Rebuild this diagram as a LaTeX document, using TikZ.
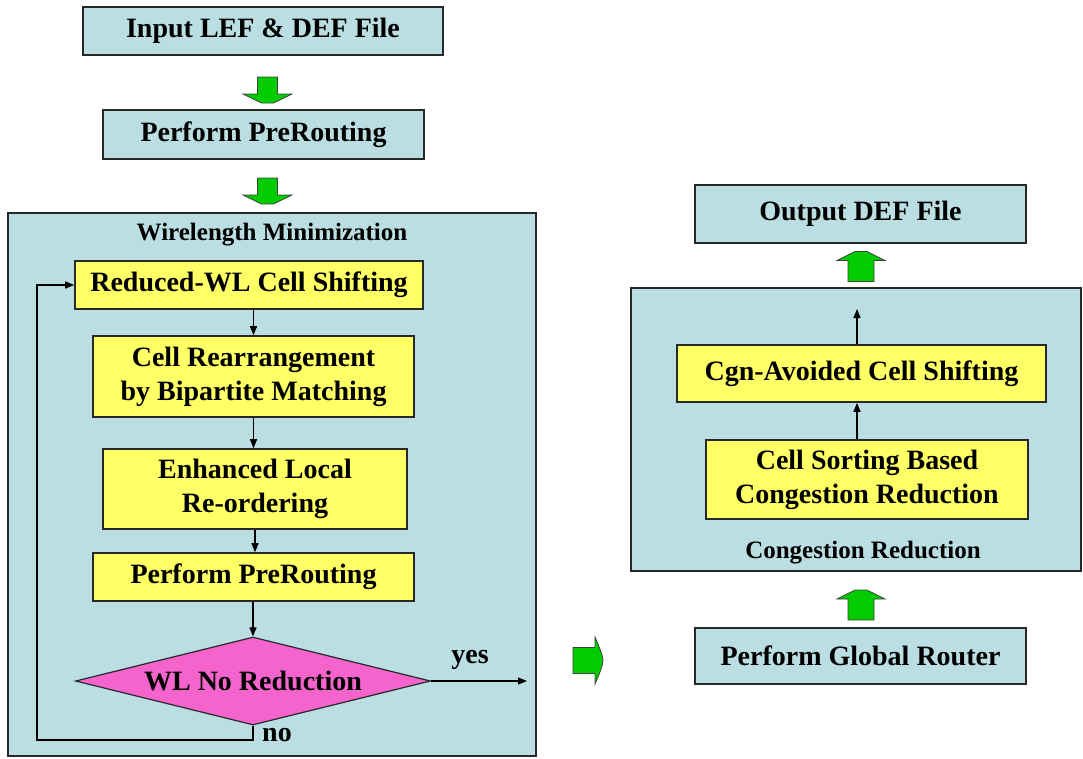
\documentclass[tikz,border=0pt]{standalone}
\usepackage{fontspec}
\setmainfont{Liberation Serif}
\usetikzlibrary{shapes.geometric,arrows.meta}

\definecolor{paleblue}{RGB}{186,222,226}
\definecolor{stepyellow}{RGB}{255,255,102}
\definecolor{decpink}{RGB}{245,100,205}
\definecolor{blockgreen}{RGB}{0,204,0}
\definecolor{edgegray}{RGB}{40,40,40}

\tikzset{
  boxtext/.style={font=\fontsize{28}{34}\selectfont\bfseries, align=center, text=black},
  iobox/.style={boxtext, draw=edgegray, line width=1.6pt, fill=paleblue, inner sep=0pt},
  stepbox/.style={boxtext, draw=edgegray, line width=1.6pt, fill=stepyellow, inner sep=0pt},
  groupbox/.style={draw=edgegray, line width=1.6pt, fill=paleblue, inner sep=0pt},
  grouplabel/.style={font=\fontsize{25}{30}\selectfont\bfseries, text=black},
  decision/.style={boxtext, diamond, aspect=4, draw=edgegray, line width=1.2pt, fill=decpink, inner sep=0pt},
  flow/.style={line width=1.3pt, -{Triangle[length=9pt,width=7pt]}},
  branchlabel/.style={font=\fontsize{28}{30}\selectfont\bfseries, text=black},
  blockarrow/.style={fill=blockgreen, draw=black!75, line width=0.8pt, line join=miter},
  gdown/.pic={\path[blockarrow] (-10,-13) -- (10,-13) -- (10,4) -- (24.5,4) -- (6,13) -- (-6,13) -- (-24.5,4) -- (-10,4) -- cycle;},
  gup/.pic={\path[blockarrow] (-13,15) -- (13,15) -- (13,-6) -- (24,-6) -- (6,-15) -- (-6,-15) -- (-24,-6) -- (-13,-6) -- cycle;},
  gright/.pic={\path[blockarrow] (-15,-13) -- (7,-13) -- (7,-23.5) .. controls (12,-12) and (15,-4) .. (15,0) .. controls (15,4) and (12,12) .. (7,23.5) -- (7,13) -- (-15,13) -- cycle;}
}

\begin{document}
\begin{tikzpicture}[x=1pt, y=-1pt]
  \useasboundingbox (0,0) rectangle (1083,758);

  % ---------- left column: input and wirelength minimization ----------
  \node[iobox, minimum width=360, minimum height=48] (in) at (263,31) {Input LEF \& DEF File};
  \pic at (267.5,90) {gdown};
  \node[iobox, minimum width=321, minimum height=49] (pre1) at (263.5,134.5) {Perform PreRouting};
  \pic at (267.5,191) {gdown};

  \node[groupbox, minimum width=528, minimum height=543] (wl) at (272,484.5) {};
  \node[grouplabel] (wllabel) at (272,235) {Wirelength Minimization};

  \node[stepbox, minimum width=348, minimum height=48] (rwl) at (249,285) {Reduced-WL Cell Shifting};
  \node[stepbox, minimum width=321, minimum height=81] (cra) at (253.5,376.5) {Cell Rearrangement\\by Bipartite Matching};
  \node[stepbox, minimum width=304, minimum height=80] (elr) at (255,489) {Enhanced Local\\Re-ordering};
  \node[stepbox, minimum width=321, minimum height=48] (pre2) at (253.5,577) {Perform PreRouting};
  \node[decision, minimum width=355, minimum height=88] (dec) at (253,681) {WL No Reduction};

  \draw[flow] (cra.north |- rwl.south) -- (cra.north);
  \draw[flow] (cra.south) -- (cra.south |- elr.north);
  \draw[flow] (elr.south) -- (elr.south |- pre2.north);
  \draw[flow] (pre2.south -| dec.north) -- (dec.north);

  \coordinate (yesend) at (527,681);
  \draw[flow] (dec.east) -- (yesend);
  \node[branchlabel] (yes) at (470,660) {yes};

  \coordinate (loopcorner) at (37,740);
  \draw[flow] (dec.south) |- (loopcorner) |- (rwl.west);
  \node[branchlabel] (no) at (277,735) {no};

  \pic at (588,660.5) {gright};

  % ---------- right column: global routing and congestion reduction ----------
  \node[iobox, minimum width=331, minimum height=58] (out) at (860.5,214) {Output DEF File};
  \pic at (861,266.5) {gup};

  \node[groupbox, minimum width=450, minimum height=283] (cr) at (856,429.5) {};
  \node[stepbox, minimum width=369, minimum height=57] (cgn) at (861.5,373.5) {Cgn-Avoided Cell Shifting};
  \node[stepbox, minimum width=322, minimum height=79] (csb) at (867,479.5) {Cell Sorting Based\\Congestion Reduction};
  \node[grouplabel] (crlabel) at (863,553) {Congestion Reduction};

  \coordinate (cgnout) at (857,309);
  \draw[flow] (cgn.north -| cgnout) -- (cgnout);
  \draw[flow] (csb.north -| cgnout) -- (cgn.south -| cgnout);

  \pic at (861,605) {gup};
  \node[iobox, minimum width=331, minimum height=56] (glob) at (860.5,656) {Perform Global Router};
\end{tikzpicture}
\end{document}
